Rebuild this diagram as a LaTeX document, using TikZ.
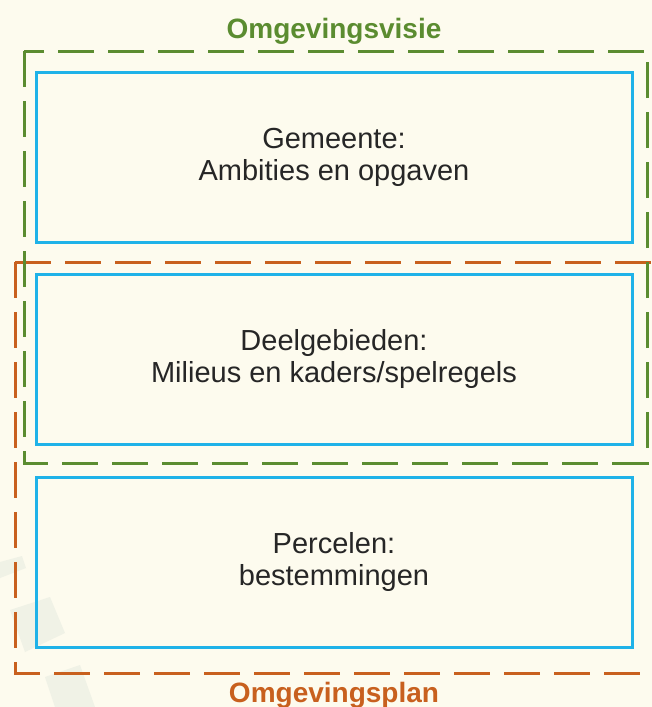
\documentclass[tikz,border=0pt]{standalone}
\usepackage{fontspec}
\setmainfont{Liberation Sans}
\usetikzlibrary{positioning}
\definecolor{bgcream}{HTML}{FDFBEE}
\definecolor{visiegreen}{HTML}{5B8C30}
\definecolor{planorange}{HTML}{C8601E}
\definecolor{boxblue}{HTML}{1FB2E8}
\definecolor{watermark}{HTML}{F0F2E6}

\begin{document}
\begin{tikzpicture}
	[x=1pt,y=-1pt,
	every node/.style={font=\fontsize{29}{32}\selectfont,align=center,text=black!85},
	niveau/.style={draw=boxblue,line width=3pt,minimum width=596pt,minimum height=170pt,inner sep=0pt},
	grens/.style={line width=3pt,dash pattern=on 36pt off 14pt},
	titel/.style={font=\fontsize{28}{32}\selectfont\bfseries,anchor=base}]
	\fill[bgcream] (0,0) rectangle (652,707);
	\useasboundingbox (0,0) rectangle (652,707);
	% faint watermark
	\fill[watermark] (0,562) -- (22,556) -- (26,568) -- (0,578) -- cycle;
	\fill[watermark] (10,610) -- (50,597) -- (65,633) -- (25,652) -- cycle;
	\fill[watermark] (45,677) -- (80,665) -- (95,707) -- (55,707) -- cycle;
	
	\node[niveau] (gemeente) at (334,157) {Gemeente:\\Ambities en opgaven};
	\node[niveau,below=29pt of gemeente] (deel) {Deelgebieden:\\Milieus en kaders/spelregels};
	\node[niveau,below=30pt of deel] (perceel) {Percelen:\\bestemmingen};
	
	\draw[grens,planorange] (15,262) -- (662,262);
	\draw[grens,planorange] (15,262) |- (662,673);
	\draw[grens,visiegreen] (24,51) rectangle (647,463);
	
	\node[titel,text=visiegreen] (visie) at (334,38) {Omgevingsvisie};
	\node[titel,text=planorange] (plan) at (334,702) {Omgevingsplan};
\end{tikzpicture}
\end{document}
